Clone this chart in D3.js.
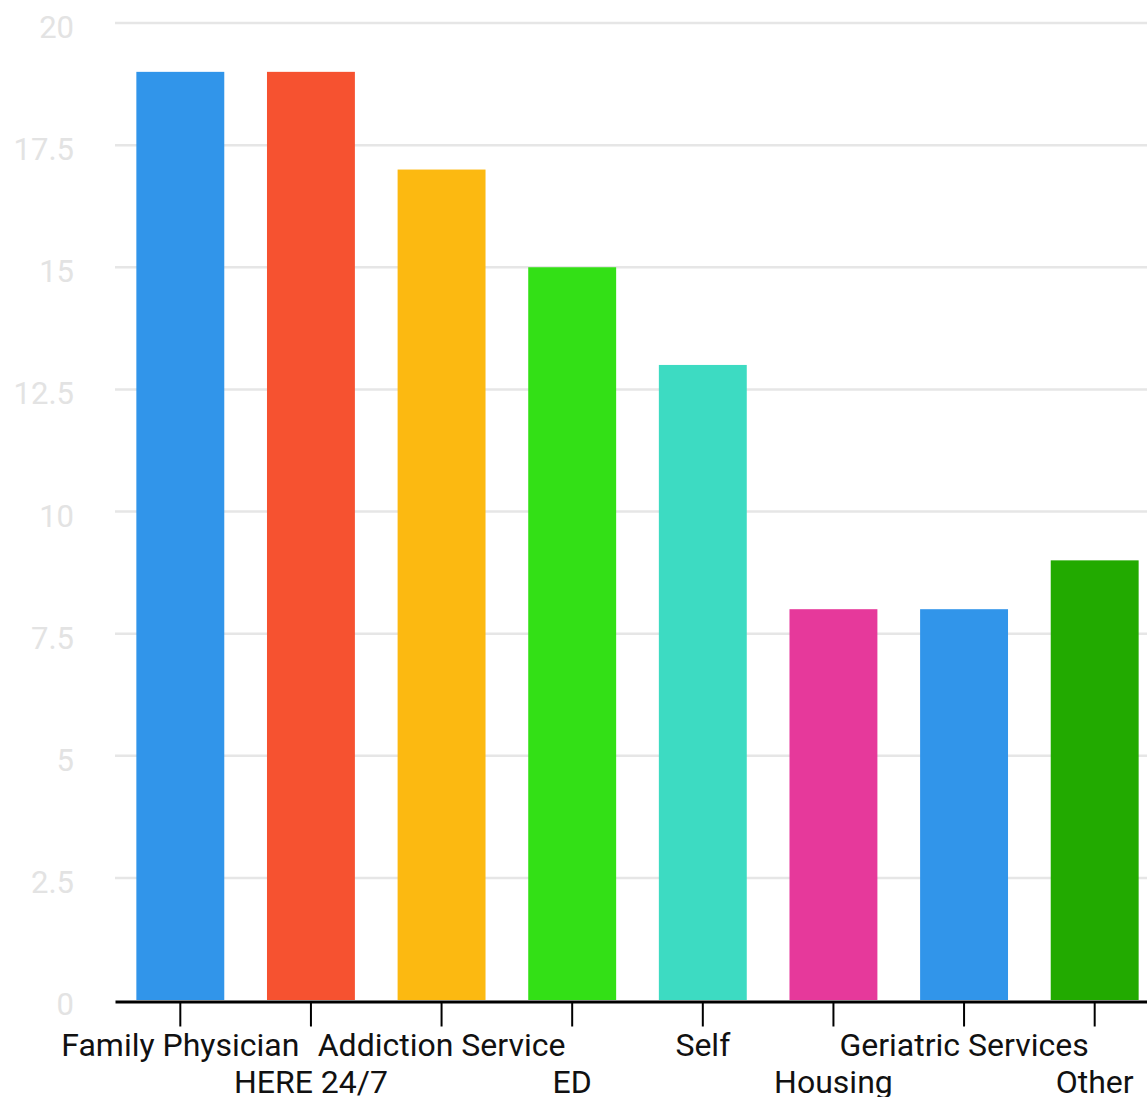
<!DOCTYPE html>
<html>
<head>
<meta charset="utf-8">
<script src="https://cdn.jsdelivr.net/npm/d3@7"></script>
<style>
  body { margin: 0; background: #fff; }
  svg { display: block; font-family: Roboto, "Noto Sans", sans-serif; }
</style>
</head>
<body>
<div class="chart"></div>
<script>
// chart data
const categories = ["Family Physician", "HERE 24/7", "Addiction Service", "ED", "Self",
  "Housing", "Geriatric Services", "Other"];
const counts = [19, 19, 17, 15, 13, 8, 8, 9];
const barColors = ["#3195ea", "#f65230", "#fcb911", "#33e016", "#3ddbc2",
  "#e6399b", "#3195ea", "#22aa00"];
const yTicks = [0, 2.5, 5, 7.5, 10, 12.5, 15, 17.5, 20];

const svgWidth = 1147;
const svgHeight = 1097;

const svg = d3.select(".chart")
  .append("svg")
  .attr("width", svgWidth)
  .attr("height", svgHeight);

const xBand = d3.scaleBand()
  .domain(categories)
  .range([115, 1160])
  .paddingInner(0.327)
  .paddingOuter(0.1635);

const yLinear = d3.scaleLinear()
  .domain([0, 20])
  .range([1000, 23]);

// gridlines
svg.append("g")
  .selectAll("line")
  .data(yTicks.filter(t => t > 0))
  .enter()
  .append("line")
  .attr("x1", 115)
  .attr("x2", svgWidth)
  .attr("y1", d => yLinear(d))
  .attr("y2", d => yLinear(d))
  .attr("stroke", "#e6e6e6")
  .attr("stroke-width", 2.5);

// y labels
svg.append("g")
  .selectAll("text")
  .data(yTicks)
  .enter()
  .append("text")
  .attr("x", 74)
  .attr("y", d => yLinear(d) + 15)
  .attr("text-anchor", "end")
  .attr("fill", "#e3e3e3")
  .style("font-size", "31px")
  .text(d => d);

// bars
svg.append("g")
  .selectAll("rect")
  .data(categories)
  .enter()
  .append("rect")
  .attr("x", d => xBand(d))
  .attr("width", xBand.bandwidth())
  .attr("y", (d, i) => yLinear(counts[i]))
  .attr("height", (d, i) => yLinear(0) - yLinear(counts[i]))
  .attr("fill", (d, i) => barColors[i]);

// x axis
const bottomAxis = d3.axisBottom(xBand)
  .tickSize(25)
  .tickSizeOuter(0);

const xAxis = svg.append("g")
  .attr("transform", `translate(0, ${yLinear(0) + 1.5})`)
  .call(bottomAxis)
  .attr("font-family", "Roboto, sans-serif")
  .attr("font-size", null);

xAxis.select(".domain")
  .attr("stroke", "#000")
  .attr("stroke-width", 3);

xAxis.selectAll(".tick line")
  .attr("stroke", "#000")
  .attr("stroke-width", 2);

// alternate label rows
xAxis.selectAll(".tick text")
  .attr("fill", "#111")
  .style("font-size", "32px")
  .attr("dy", null)
  .attr("y", (d, i) => i % 2 === 0 ? 54 : 91);
</script>
</body>
</html>
